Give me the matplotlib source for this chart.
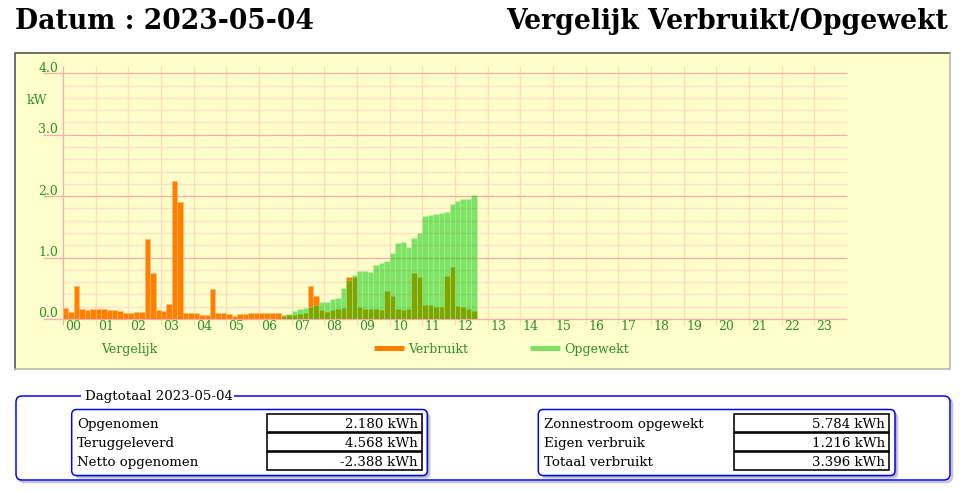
import numpy as np
import matplotlib
matplotlib.use("Agg")
import matplotlib.pyplot as plt
from matplotlib.patches import Rectangle, FancyBboxPatch

plt.rcParams["font.family"] = "DejaVu Serif"

# Gegevens (kW per 10 minuten)
datum = "2023-05-04"
titel = "Vergelijk Verbruikt/Opgewekt"
uren = ["00", "01", "02", "03", "04", "05", "06", "07", "08", "09", "10", "11",
        "12", "13", "14", "15", "16", "17", "18", "19", "20", "21", "22", "23"]
y_waarden = [0, 1, 2, 3, 4]

verbruikt = [
    0.18, 0.12, 0.53, 0.16, 0.15, 0.17,
    0.17, 0.16, 0.14, 0.15, 0.13, 0.09,
    0.10, 0.12, 0.12, 1.31, 0.75, 0.14,
    0.13, 0.24, 2.25, 1.90, 0.10, 0.10,
    0.09, 0.07, 0.06, 0.49, 0.10, 0.10,
    0.08, 0.05, 0.08, 0.08, 0.09, 0.09,
    0.10, 0.10, 0.10, 0.10, 0.07, 0.07,
    0.07, 0.08, 0.10, 0.53, 0.38, 0.14,
    0.12, 0.14, 0.17, 0.18, 0.69, 0.69,
    0.20, 0.17, 0.17, 0.16, 0.14, 0.46,
    0.38, 0.17, 0.14, 0.17, 0.75, 0.68,
    0.22, 0.22, 0.20, 0.19, 0.70, 0.85,
    0.21, 0.20, 0.16, 0.13,
]
opgewekt = [
    0, 0, 0, 0, 0, 0,
    0, 0, 0, 0, 0, 0,
    0, 0, 0, 0, 0, 0,
    0, 0, 0, 0, 0, 0,
    0, 0, 0, 0, 0, 0,
    0, 0, 0, 0, 0, 0,
    0, 0, 0, 0, 0.05, 0.08,
    0.13, 0.17, 0.18, 0.20, 0.22, 0.27,
    0.28, 0.32, 0.34, 0.51, 0.63, 0.71,
    0.78, 0.78, 0.77, 0.88, 0.91, 0.94,
    1.08, 1.24, 1.26, 1.18, 1.32, 1.40,
    1.68, 1.69, 1.71, 1.72, 1.75, 1.87,
    1.92, 1.96, 1.95, 2.02,
]

links_namen = ["Opgenomen", "Teruggeleverd", "Netto opgenomen"]
links_waarden = ["2.180 kWh", "4.568 kWh", "-2.388 kWh"]
rechts_namen = ["Zonnestroom opgewekt", "Eigen verbruik", "Totaal verbruikt"]
rechts_waarden = ["5.784 kWh", "1.216 kWh", "3.396 kWh"]

PX = 0.72  # 1 pixel in punten bij dpi 100
groen_tekst = "#2b8f2b"

fig = plt.figure(figsize=(9.68, 4.91), dpi=100)

# Achtergrond-assen in pixels (y naar beneden)
bg = fig.add_axes([0, 0, 1, 1])
bg.set_xlim(0, 968)
bg.set_ylim(491, 0)
bg.axis("off")

# Titels
bg.text(15, 29, "Datum : " + datum, fontsize=19.2, fontweight="bold", va="baseline")
bg.text(948, 29, titel, fontsize=19.2, fontweight="bold", va="baseline", ha="right")

# Kader van de grafiek
bg.add_patch(Rectangle((15, 53), 935, 316, facecolor="#ffffcc", edgecolor="none"))
bg.plot([15, 15, 950], [369, 53, 53], color="#444444", lw=1.5 * PX)
bg.plot([950, 950, 15], [53, 369, 369], color="#b0b0b0", lw=1.5 * PX)

# Legenda
bg.text(101, 353, "Vergelijk", fontsize=9, color=groen_tekst, va="baseline")
bg.plot([374, 404], [348, 348], color="#ff8000", lw=5 * PX, solid_capstyle="butt")
bg.text(408, 353, "Verbruikt", fontsize=9, color=groen_tekst, va="baseline")
bg.plot([530, 560], [348, 348], color="#80e060", lw=5 * PX, solid_capstyle="butt")
bg.text(564, 353, "Opgewekt", fontsize=9, color=groen_tekst, va="baseline")

# Grafiek
ax = fig.add_axes([63 / 968, (491 - 319) / 491, 784 / 968, 245.7 / 491])
ax.set_xlim(0, 24)
ax.set_ylim(0, 4)
ax.axis("off")

minor = [v / 5 for v in range(1, 20) if v % 5 != 0]
ax.hlines(minor, 0, 24, color="#ffe0c8", lw=1.4 * PX, zorder=1, clip_on=False)
ax.hlines(y_waarden, -0.61, 24, color="#ffaaaa", lw=1.3 * PX, zorder=1.5, clip_on=False)
ax.vlines(range(1, 24), -0.1, 4.12, color="#ffdcb8", lw=1.3 * PX, zorder=1, clip_on=False)
ax.vlines(0, -0.1, 4.12, color="#ffaaaa", lw=1.3 * PX, zorder=1.5, clip_on=False)

x = np.arange(len(verbruikt)) / 6
ax.bar(x, verbruikt, width=1 / 6, align="edge", color="#ff8000",
       edgecolor="#ffb870", linewidth=0.4, zorder=3)
ax.bar(x, opgewekt, width=1 / 6, align="edge", color="#00c800", alpha=0.5,
       edgecolor="#c0ffb0", linewidth=0.4, zorder=4)

for i, u in enumerate(uren):
    ax.text(i + 0.07, -0.18, u, fontsize=9, color=groen_tekst, va="baseline",
            ha="left", clip_on=False)
for v in y_waarden:
    ax.text(-0.15, v + 0.025, "%.1f" % v, fontsize=9, color=groen_tekst,
            va="baseline", ha="right", clip_on=False)
ax.text(-1.1, 3.5, "kW", fontsize=9, color=groen_tekst, va="baseline", ha="left")

# Dagtotaal
for d in (2.5, 1.5):
    bg.add_patch(FancyBboxPatch((16 + d, 396 + d), 934, 84,
                                boxstyle="round,pad=0,rounding_size=6",
                                facecolor="none", edgecolor="#999999",
                                lw=1.5 * PX, alpha=0.5))
bg.add_patch(FancyBboxPatch((16, 396), 934, 84, boxstyle="round,pad=0,rounding_size=6",
                            facecolor="white", edgecolor="#0000ff", lw=1.5 * PX))
bg.add_patch(Rectangle((81, 392), 153, 8, facecolor="white", edgecolor="none", zorder=3))
bg.text(85, 400, "Dagtotaal " + datum, fontsize=9.6, va="baseline", zorder=4)


def tabel(x0, x1, cel0, cel1, namen, waarden):
    for d in (3.5, 2.5, 1.5):
        bg.add_patch(FancyBboxPatch((x0 + d, 409.5 + d), x1 - x0, 66,
                                    boxstyle="round,pad=0,rounding_size=5",
                                    facecolor="#777777", edgecolor="none",
                                    alpha=0.25, zorder=2))
    bg.add_patch(FancyBboxPatch((x0, 409.5), x1 - x0, 66,
                                boxstyle="round,pad=0,rounding_size=5",
                                facecolor="white", edgecolor="#0000ff",
                                lw=1.5 * PX, zorder=3))
    for r, (n, w) in enumerate(zip(namen, waarden)):
        y0 = 414.3 + r * 19
        bg.add_patch(Rectangle((cel0, y0), cel1 - cel0, 18, facecolor="white",
                               edgecolor="black", lw=1.6 * PX, zorder=4))
        bg.text(x0 + 5.5, y0 + 13.4, n, fontsize=9.6, va="baseline", zorder=5)
        bg.text(cel1 - 4.5, y0 + 13.4, w, fontsize=9.6, va="baseline", ha="right", zorder=5)


tabel(71.7, 427.3, 267.3, 422.3, links_namen, links_waarden)
tabel(538.3, 895, 734.3, 889.3, rechts_namen, rechts_waarden)

fig.savefig("out.png", dpi=100)
